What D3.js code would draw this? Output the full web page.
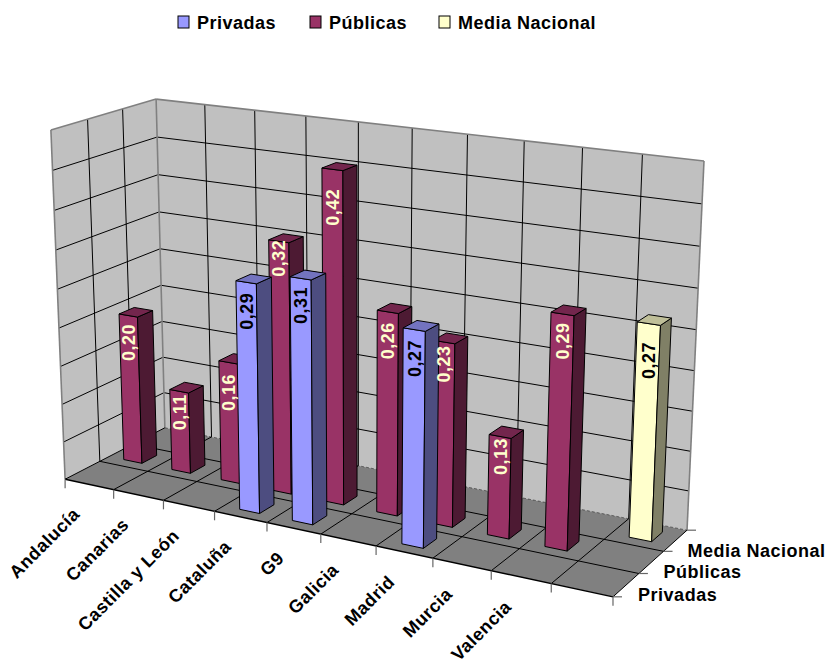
<!DOCTYPE html>
<html><head><meta charset="utf-8">
<script src="https://cdn.jsdelivr.net/npm/d3@7"></script>
<style>
html,body{margin:0;padding:0;background:#fff}
svg{display:block}
text{font-family:"Liberation Sans",Arial,sans-serif;font-weight:bold;font-size:18px;letter-spacing:0.5px}
</style></head><body>
<svg id="c" width="830" height="661"></svg>
<script>
// ---- data ----
const categories = ["Andalucía","Canarias","Castilla y León","Cataluña","G9","Galicia","Madrid","Murcia","Valencia",""];
const seriesNames = ["Privadas","Públicas","Media Nacional"];
const privadas = [null,null,null,0.29,0.305,null,0.265,null,null,null];
const publicas = [0.197,0.108,0.158,0.323,0.42,0.256,0.23,0.126,0.286,null];
const mediaNacional = [null,null,null,null,null,null,null,null,null,0.266];
const valueTicks = [0,0.05,0.10,0.15,0.20,0.25,0.30,0.35,0.40,0.45];

// ---- styles ----
const palette = {
  "Privadas":{front:"#9999ff",top:"#7373bf",side:"#4d4d80",label:"#000"},
  "Públicas":{front:"#993366",top:"#73264d",side:"#4d1a33",label:"#ffffcc"},
  "Media Nacional":{front:"#ffffcc",top:"#bfbf99",side:"#808066",label:"#000"}
};
const seriesValues = {"Privadas":privadas,"Públicas":publicas,"Media Nacional":mediaNacional};
// distance of each value label below the top of its bar, as placed in the reference
const labelDrops = {
  "Privadas":{3:29,4:27,6:29},
  "Públicas":{0:27,1:21,2:30,3:17,4:38,5:29,6:22,7:20,8:27},
  "Media Nacional":{9:37}
};

// ---- scales into the unit box of the 3D chart ----
const x = d3.scaleBand().domain(categories.map((_,i)=>i)).range([0,1]).paddingInner(0.62).paddingOuter(0.31);
const y = d3.scaleBand().domain(seriesNames).range([0,1]).paddingInner(0.55).paddingOuter(0.275);
const z = d3.scaleLinear().domain([0,0.45]).range([0,1]);

// ---- camera: fit of a projective map to the visible box corners ----
const cameraFit = [
  [0,0,0, 65,479],[1,0,0, 613,597],[1,1,0, 687,530],[0,1,0, 165,428],
  [0,0,1, 51,130],[0,1,1, 156,99],[1,1,1, 704,161]
];
function solve(A,b){
  const n=b.length, M=A.map((r,i)=>[...r,b[i]]);
  for(let c=0;c<n;c++){
    let p=c; for(let r=c+1;r<n;r++) if(Math.abs(M[r][c])>Math.abs(M[p][c])) p=r;
    [M[c],M[p]]=[M[p],M[c]];
    for(let r=0;r<n;r++){ if(r===c) continue; const f=M[r][c]/M[c][c]; for(let k=c;k<=n;k++) M[r][k]-=f*M[c][k]; }
  }
  return M.map((r,i)=>r[n]/r[i]);
}
const cam=(function(){
  const rows=[],rhs=[];
  cameraFit.forEach(([a,b,c,u,v])=>{
    rows.push([a,b,c,1,0,0,0,0,-u*a,-u*b,-u*c]); rhs.push(u);
    rows.push([0,0,0,0,a,b,c,1,-v*a,-v*b,-v*c]); rhs.push(v);
  });
  const N=d3.range(11).map(i=>d3.range(11).map(j=>d3.sum(rows,r=>r[i]*r[j])));
  const t=d3.range(11).map(i=>d3.sum(rows,(r,k)=>r[i]*rhs[k]));
  return solve(N,t);
})();
function P(a,b,c){
  const w=cam[8]*a+cam[9]*b+cam[10]*c+1;
  return [(cam[0]*a+cam[1]*b+cam[2]*c+cam[3])/w,(cam[4]*a+cam[5]*b+cam[6]*c+cam[7])/w];
}
const poly=pts=>"M"+pts.map(p=>p[0].toFixed(2)+","+p[1].toFixed(2)).join("L")+"Z";
const seg=(p,q)=>"M"+p[0].toFixed(2)+","+p[1].toFixed(2)+"L"+q[0].toFixed(2)+","+q[1].toFixed(2);

const svg=d3.select("#c");
// walls and floor
const planes=[
  {f:"#c0c0c0",pts:[P(0,1,0),P(1,1,0),P(1,1,1),P(0,1,1)]},
  {f:"#c0c0c0",pts:[P(0,0,0),P(0,1,0),P(0,1,1),P(0,0,1)]},
  {f:"#808080",pts:[P(0,0,0),P(1,0,0),P(1,1,0),P(0,1,0)]}
];
svg.append("g").selectAll("path").data(planes).join("path")
  .attr("d",d=>poly(d.pts)).attr("fill",d=>d.f).attr("stroke","none");

// gridlines
const xEdges=d3.range(categories.length+1).map(i=>i/categories.length);
const yEdges=d3.range(seriesNames.length+1).map(i=>i/seriesNames.length);
const grid=[];
valueTicks.slice(1,-1).forEach(v=>{
  grid.push(seg(P(0,0,z(v)),P(0,1,z(v))));
  grid.push(seg(P(0,1,z(v)),P(1,1,z(v))));
});
xEdges.slice(1,-1).forEach(e=>{
  grid.push(seg(P(e,1,0),P(e,1,1)));
  grid.push(seg(P(e,0,0),P(e,1,0)));
});
yEdges.slice(1,-1).forEach(e=>{
  grid.push(seg(P(0,e,0),P(0,e,1)));
  grid.push(seg(P(0,e,0),P(1,e,0)));
});
svg.append("g").selectAll("path").data(grid).join("path")
  .attr("d",d=>d).attr("stroke","#000").attr("stroke-width",1).attr("fill","none");

// wall outlines
const outline=[
  seg(P(0,0,0),P(0,0,1)),seg(P(0,0,1),P(0,1,1)),seg(P(0,1,1),P(1,1,1)),
  seg(P(1,1,1),P(1,1,0)),seg(P(0,1,0),P(0,1,1))
];
svg.append("g").selectAll("path").data(outline).join("path")
  .attr("d",d=>d).attr("stroke","#808080").attr("stroke-width",1.6).attr("fill","none");
svg.append("g").selectAll("path").data([seg(P(0,0,0),P(0,1,0)),seg(P(0,1,0),P(1,1,0)),seg(P(1,1,0),P(1,0,0))]).join("path")
  .attr("d",d=>d).attr("stroke","#000").attr("stroke-width",1).attr("stroke-dasharray",(d,i)=>i===1?"3 2":null).attr("stroke-opacity",(d,i)=>i===1?0.45:1).attr("fill","none");
svg.append("path").attr("d",seg(P(0,0,0),P(1,0,0))).attr("stroke","#000").attr("stroke-width",1.4);

// axis ticks
const tickLen=9;
svg.append("g").selectAll("path").data(xEdges).join("path")
  .attr("d",e=>{const p=P(e,0,0);return seg(p,[p[0],p[1]+tickLen]);})
  .attr("stroke","#666").attr("stroke-width",1.2);
svg.append("g").selectAll("path").data(yEdges).join("path")
  .attr("d",e=>{const p=P(1,e,0);return seg(p,[p[0]+tickLen,p[1]]);})
  .attr("stroke","#666").attr("stroke-width",1.2);

// bars: back row first, then left to right
const bars=[];
seriesNames.slice().reverse().forEach(s=>{
  seriesValues[s].forEach((v,i)=>{ if(v!==null) bars.push({s,i,v}); });
});
const barG=svg.append("g").selectAll("g").data(bars).join("g");
function faces(d){
  const x0=x(d.i),x1=x0+x.bandwidth(),y0=y(d.s),y1=y0+y.bandwidth(),t=z(d.v);
  return [
    {k:"front",pts:[P(x0,y0,0),P(x1,y0,0),P(x1,y0,t),P(x0,y0,t)]},
    {k:"side",pts:[P(x1,y0,0),P(x1,y1,0),P(x1,y1,t),P(x1,y0,t)]},
    {k:"top",pts:[P(x0,y0,t),P(x1,y0,t),P(x1,y1,t),P(x0,y1,t)]}
  ].map(f=>({...f,s:d.s}));
}
barG.selectAll("path").data(faces).join("path")
  .attr("d",f=>poly(f.pts)).attr("fill",f=>palette[f.s][f.k])
  .attr("stroke","#000").attr("stroke-width",1).attr("stroke-linejoin","round");

// value labels
const fmt=v=>(Math.round(v*100+1e-6)/100).toFixed(2).replace(".",",");
svg.append("g").selectAll("text").data(bars).join("text")
  .attr("transform",d=>{
    const p=P(x(d.i)+x.bandwidth()/2,y(d.s),z(d.v));
    return `translate(${p[0].toFixed(1)},${(p[1]+labelDrops[d.s][d.i]).toFixed(1)}) rotate(-90)`;
  })
  .attr("text-anchor","middle").attr("dy","0.36em")
  .attr("fill",d=>palette[d.s].label).text(d=>fmt(d.v));

// category labels
svg.append("g").selectAll("text").data(categories.filter(c=>c)).join("text")
  .attr("transform",(c,i)=>{
    const p=P(x(i)+x.bandwidth()/2,0,0);
    return `translate(${(p[0]-8.5).toFixed(1)},${(p[1]+31).toFixed(1)}) rotate(-45)`;
  })
  .attr("text-anchor","end").attr("fill","#000").text(c=>c);

// series labels on depth axis
svg.append("g").selectAll("text").data(seriesNames).join("text")
  .attr("transform",(s,i)=>{
    const p=P(1,y(s)+y.bandwidth()/2,0);
    return `translate(${(p[0]+12).toFixed(1)},${(p[1]+16).toFixed(1)})`;
  })
  .attr("fill","#000").text(s=>s);

// legend
const legendX=d3.scaleOrdinal().domain(seriesNames).range([178,310,439]);
const lg=svg.append("g").selectAll("g").data(seriesNames).join("g")
  .attr("transform",s=>`translate(${legendX(s)},16)`);
lg.append("rect").attr("width",11).attr("height",12).attr("fill",s=>palette[s].front).attr("stroke","#000").attr("stroke-width",1);
lg.append("text").attr("x",19).attr("y",12.5).attr("fill","#000").text(s=>s);
</script>
</body></html>
